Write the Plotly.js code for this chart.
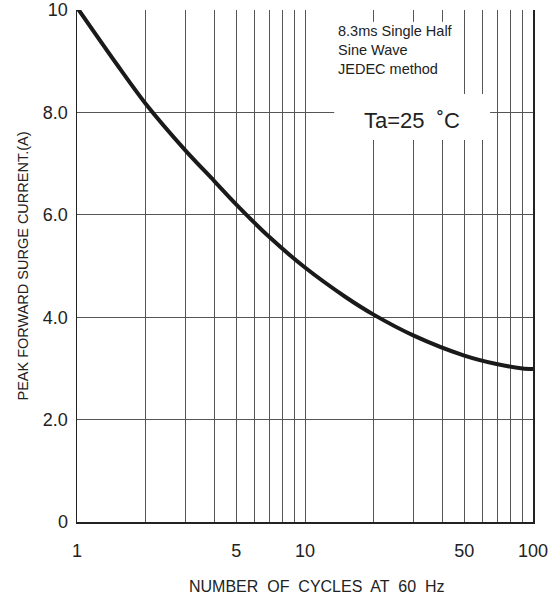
<!DOCTYPE html>
<html>
<head>
<meta charset="utf-8">
<script src="https://cdn.plot.ly/plotly-3.0.1.min.js"></script>
<style>html,body{margin:0;padding:0;background:#fff;}#chart{width:553px;height:598px;}</style>
</head>
<body>
<div id="chart"></div>
<script>
// Data
const cycles = [1, 1.5, 2, 3, 4, 5, 7, 10, 15, 20, 30, 50, 70, 90, 100];
const current = [10.05, 8.93, 8.17, 7.25, 6.66, 6.2, 5.56, 4.97, 4.4, 4.05, 3.64, 3.25, 3.08, 3.0, 2.99];

const xGridVals = [1,2,3,4,5,6,7,8,9,10,20,30,40,50,60,70,80,90,100];
const xLabeled = [1, 5, 10, 50, 100];
const yTickVals = [0, 2, 4, 6, 8, 10];
const yTickText = ["0", "2.0", "4.0", "6.0", "8.0", "10"];

const xTitle = "NUMBER  OF  CYCLES  AT  60  Hz";
const yTitle = "PEAK FORWARD SURGE CURRENT.(A)";
const noteText = "8.3ms Single Half<br>Sine Wave<br>JEDEC method";
const tempText = "Ta=25  \u02DAC";

const xTickText = xGridVals.map(v => xLabeled.includes(v) ? String(v) : "");

const trace = {
  x: cycles, y: current, type: "scatter", mode: "lines",
  line: {color: "#1a1a1a", width: 4, shape: "spline", smoothing: 0.8},
  hoverinfo: "skip"
};

const fam = "Liberation Sans, Arial, sans-serif";
const tickFont = {family: fam, size: 18, color: "#222"};

const layout = {
  width: 553, height: 598,
  margin: {l: 77, r: 20, t: 10, b: 76},
  paper_bgcolor: "#fff", plot_bgcolor: "#fff",
  showlegend: false,
  xaxis: {
    type: "log", range: [0, 2],
    tickmode: "array", tickvals: xGridVals, ticktext: xTickText,
    ticks: "", ticklabelstandoff: 12,
    showgrid: true, gridcolor: "#555", gridwidth: 1,
    showline: true, linecolor: "#222", linewidth: 1.5, mirror: false,
    zeroline: false, tickfont: tickFont
  },
  yaxis: {
    range: [0, 10],
    tickmode: "array", tickvals: yTickVals, ticktext: yTickText,
    ticks: "", ticklabelstandoff: 4,
    showgrid: true, gridcolor: "#555", gridwidth: 1,
    showline: true, linecolor: "#222", linewidth: 1.5, mirror: true,
    zeroline: false, tickfont: tickFont,
    title: {text: yTitle, font: {family: fam, size: 14.5, color: "#222"}, standoff: 11}
  },
  shapes: [
    {type: "rect", xref: "paper", yref: "paper", x0: 0.566, x1: 0.840, y0: 0.834, y1: 0.977, fillcolor: "#fff", line: {width: 0}, layer: "above"},
    {type: "rect", xref: "paper", yref: "paper", x0: 0.564, x1: 0.906, y0: 0.746, y1: 0.836, fillcolor: "#fff", line: {width: 0}, layer: "above"}
  ],
  annotations: [
    {xref: "paper", yref: "paper", x: 0.526, y: -0.125, xanchor: "center", yanchor: "middle",
     text: xTitle, showarrow: false, font: {family: fam, size: 16, color: "#222"}},
    {xref: "paper", yref: "paper", x: 0.567, y: 0.978, xanchor: "left", yanchor: "top", align: "left",
     text: noteText, showarrow: false,
     font: {family: fam, size: 14.5, color: "#222"}},
    {xref: "paper", yref: "paper", x: 0.735, y: 0.785, xanchor: "center", yanchor: "middle",
     text: tempText, showarrow: false,
     font: {family: fam, size: 22, color: "#222"}}
  ]
};

Plotly.newPlot("chart", [trace], layout, {displayModeBar: false, staticPlot: true});
</script>
</body>
</html>
